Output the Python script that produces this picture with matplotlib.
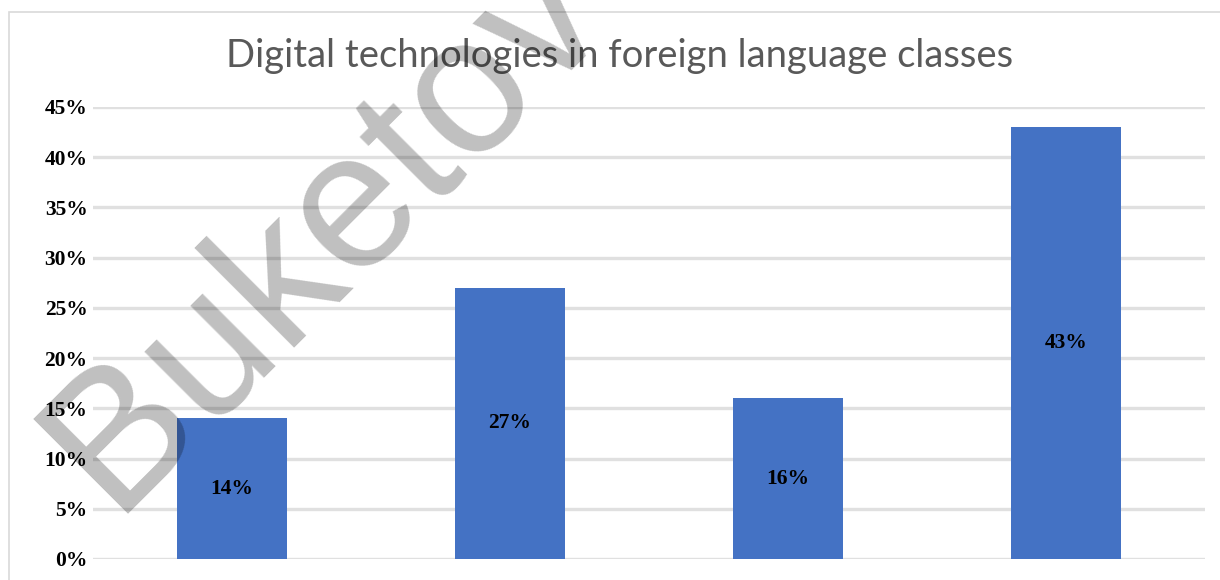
import matplotlib
matplotlib.use("Agg")
import matplotlib.pyplot as plt
from matplotlib.patches import Rectangle
from matplotlib.ticker import FuncFormatter

categories = ["A", "B", "C", "D"]
values = [0.14, 0.27, 0.16, 0.43]
yticks = [0.0, 0.05, 0.10, 0.15, 0.20, 0.25, 0.30, 0.35, 0.40, 0.45]
title = "Digital technologies in foreign language classes"
watermark = "Buketov"

W, H = 1220, 580
fig = plt.figure(figsize=(W / 100, H / 100), dpi=100)
fig.patch.set_facecolor("white")

# chart border
fig.add_artist(Rectangle((9 / W, -0.02), 1.2, (580 - 12) / H + 0.02,
                         transform=fig.transFigure, fill=False,
                         edgecolor="#d9d9d9", linewidth=1.2))

ax = fig.add_axes([93 / W, (H - 559) / H, (1205 - 93) / W, (559 - 107) / H])
x = range(len(categories))
bars = ax.bar(x, values, width=0.396, color="#4472C4", zorder=3)
ax.set_xlim(-0.5, len(categories) - 0.5)
ax.set_ylim(0, 0.45)
ax.set_yticks(yticks)
ax.yaxis.set_major_formatter(FuncFormatter(lambda v, p: f"{round(v*100)}%"))
ax.set_xticks([])
for s in ax.spines.values():
    s.set_visible(False)
ax.tick_params(axis="y", length=0, pad=4)
for lab in ax.get_yticklabels():
    lab.set_fontfamily("Liberation Serif")
    lab.set_fontweight("bold")
    lab.set_fontsize(15.5)
    lab.set_color("black")
ax.grid(axis="y", color="#e0e0e0", linewidth=2.4, zorder=0)
ax.set_axisbelow(True)

for xi, v in zip(x, values):
    ax.text(xi, v / 2, f"{round(v*100)}%", ha="center", va="center",
            fontfamily="Liberation Serif", fontweight="bold", fontsize=15.5,
            color="black", zorder=4)

fig.text(620 / W, (H - 56) / H, title, ha="center", va="center",
         fontfamily="Lato", fontsize=27.5, color="#595959")

fig.text(113 / W, (H - 514) / H, watermark, transform=fig.transFigure,
         rotation=45, rotation_mode="anchor", ha="left", va="baseline",
         fontfamily="Liberation Sans", fontsize=140, color="black",
         alpha=0.25, zorder=10)

fig.savefig("out.png", dpi=100)
